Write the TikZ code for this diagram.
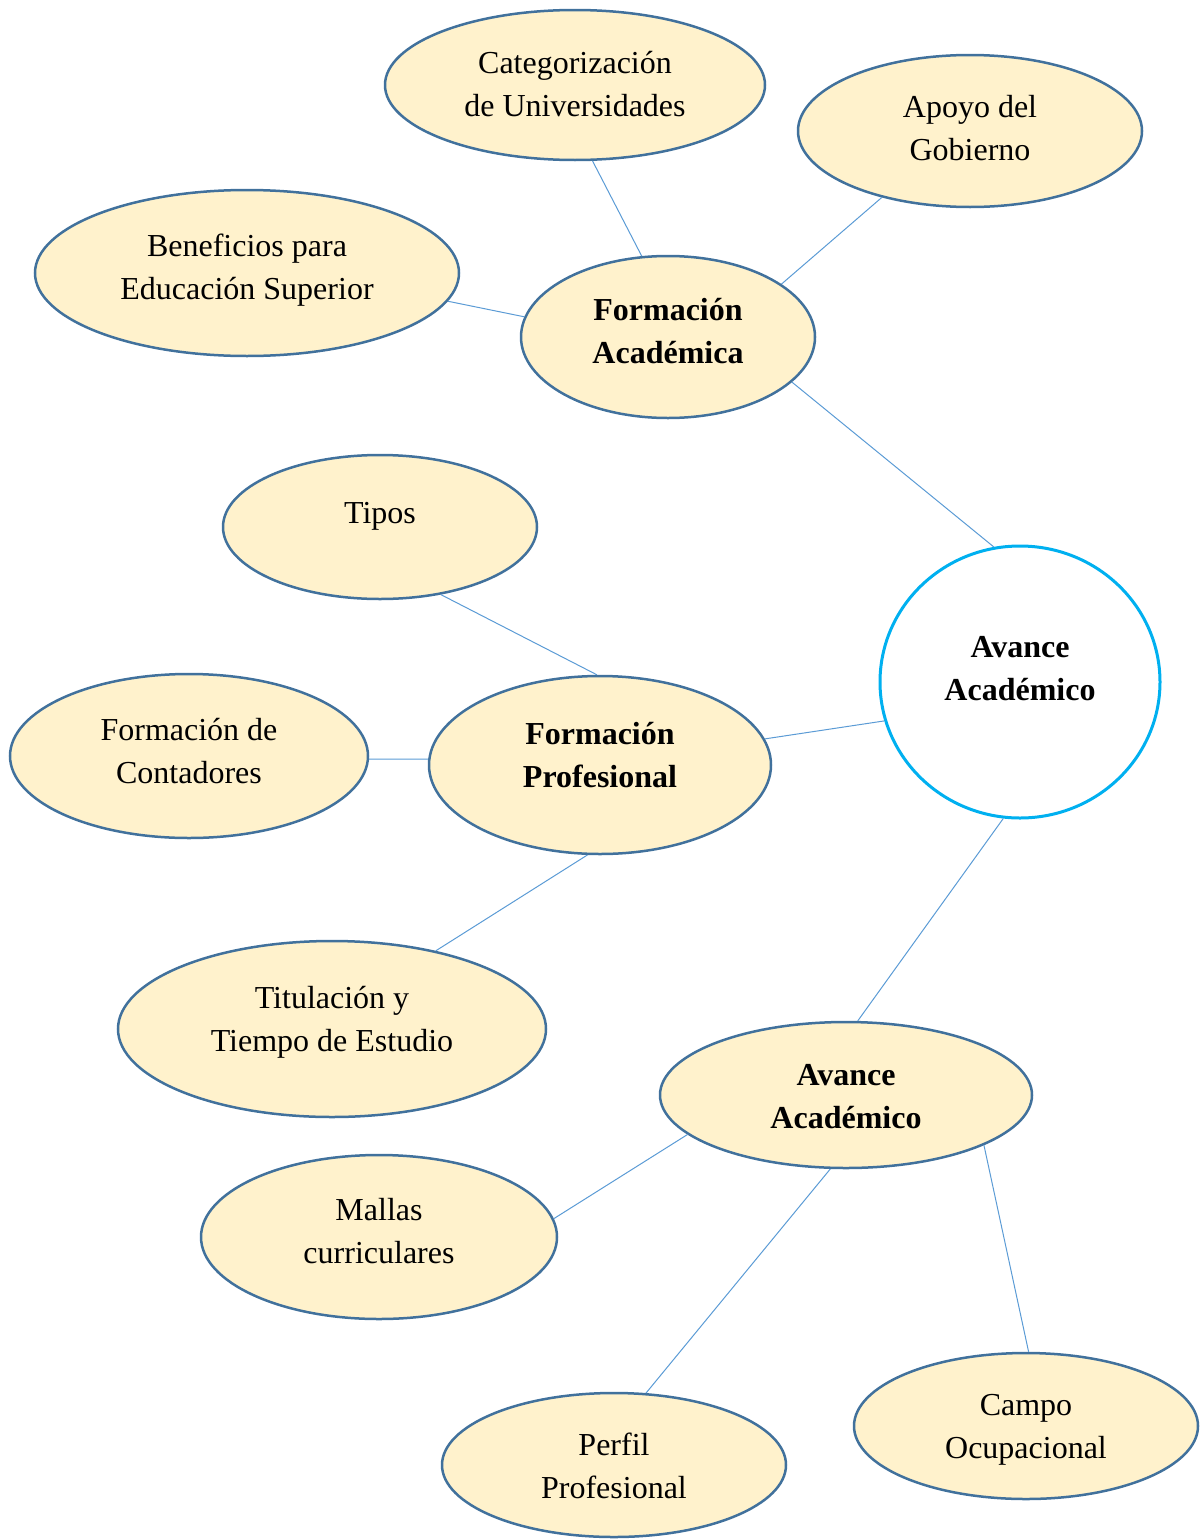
\documentclass[tikz,border=0pt]{standalone}
\usepackage{fontspec}
\setmainfont{Liberation Serif}
\usetikzlibrary{shapes.geometric}
\definecolor{ovalfill}{HTML}{FFF2CC}
\definecolor{ovalline}{HTML}{41719C}
\definecolor{linkline}{HTML}{5B9BD5}
\definecolor{ringline}{HTML}{00B0F0}

\begin{document}
\begin{tikzpicture}[x=1pt, y=-1pt, font=\fontsize{32}{43}\selectfont]
  \tikzstyle{topicnode}=[ellipse, draw=ovalline, line width=2.5pt, fill=ovalfill, inner sep=0pt]
  \tikzstyle{hubnode}=[ellipse, draw=ringline, line width=3pt, fill=white, inner sep=0pt]
  \tikzstyle{topictext}=[align=center, inner sep=0pt]
  \tikzstyle{keytext}=[topictext, font=\fontsize{32}{43}\selectfont\bfseries]
  \tikzstyle{link}=[draw=linkline, line width=1pt]

  \useasboundingbox (0,0) rectangle (1202,1539);

  % Hub and the three branches
  \node[hubnode, minimum width=280pt, minimum height=272pt, label={[keytext, yshift=13pt]center:{Avance\\Académico}}] (hub) at (1020,682) {};
  \node[topicnode, minimum width=294pt, minimum height=162pt, label={[keytext, yshift=6pt]center:{Formación\\Académica}}] (fa) at (668,337) {};
  \node[topicnode, minimum width=342pt, minimum height=178pt, label={[keytext, yshift=10pt]center:{Formación\\Profesional}}] (fp) at (600,765) {};
  \node[topicnode, minimum width=372pt, minimum height=146pt, label={[keytext, yshift=-2pt]center:{Avance\\Académico}}] (aa) at (846,1095) {};

  % Leaves of Formación Académica
  \node[topicnode, minimum width=380pt, minimum height=150pt, label={[topictext, yshift=1pt]center:{Categorización\\de Universidades}}] (cat) at (575,85) {};
  \node[topicnode, minimum width=344pt, minimum height=152pt, label={[topictext, yshift=3pt]center:{Apoyo del\\Gobierno}}] (gob) at (970,131) {};
  \node[topicnode, minimum width=424pt, minimum height=166pt, label={[topictext, yshift=3pt]center:{Beneficios para\\Educación Superior}}] (ben) at (247,273) {};

  % Leaves of Formación Profesional
  \node[topicnode, minimum width=314pt, minimum height=144pt, label={[topictext, yshift=11pt]center:{Tipos}}] (tip) at (380,527) {};
  \node[topicnode, minimum width=358pt, minimum height=164pt, label={[topictext, yshift=5pt]center:{Formación de\\Contadores}}] (con) at (189,756) {};
  \node[topicnode, minimum width=428pt, minimum height=176pt, label={[topictext, yshift=7pt]center:{Titulación y\\Tiempo de Estudio}}] (tit) at (332,1029) {};

  % Leaves of Avance Académico
  \node[topicnode, minimum width=356pt, minimum height=164pt, label={[topictext, yshift=6pt]center:{Mallas\\curriculares}}] (mal) at (379,1237) {};
  \node[topicnode, minimum width=344pt, minimum height=144pt, label={[topictext, yshift=-1pt]center:{Perfil\\Profesional}}] (per) at (614,1465) {};
  \node[topicnode, minimum width=344pt, minimum height=146pt, label={[topictext, yshift=-4pt]center:{Campo\\Ocupacional}}] (cam) at (1026,1426) {};

  \draw[link] (fa.-20) -- (hub.101);
  \draw[link] (fp.9) -- (hub.196);
  \draw[link] (hub.263) -- (aa.81);

  \draw[link] (cat.-77) -- (fa.108);
  \draw[link] (gob.217) -- (fa.25);
  \draw[link] (ben.-8) -- (fa.172);

  \draw[link] (tip.-48) -- (fp.92);
  \draw[link] (con.-1) -- (fp.178);
  \draw[link] (fp.-98) -- (tit.37);

  \draw[link] (aa.194) -- (mal.6);
  \draw[link] (aa.258) -- (per.66);
  \draw[link] (aa.-20) -- (cam.88);
\end{tikzpicture}
\end{document}
